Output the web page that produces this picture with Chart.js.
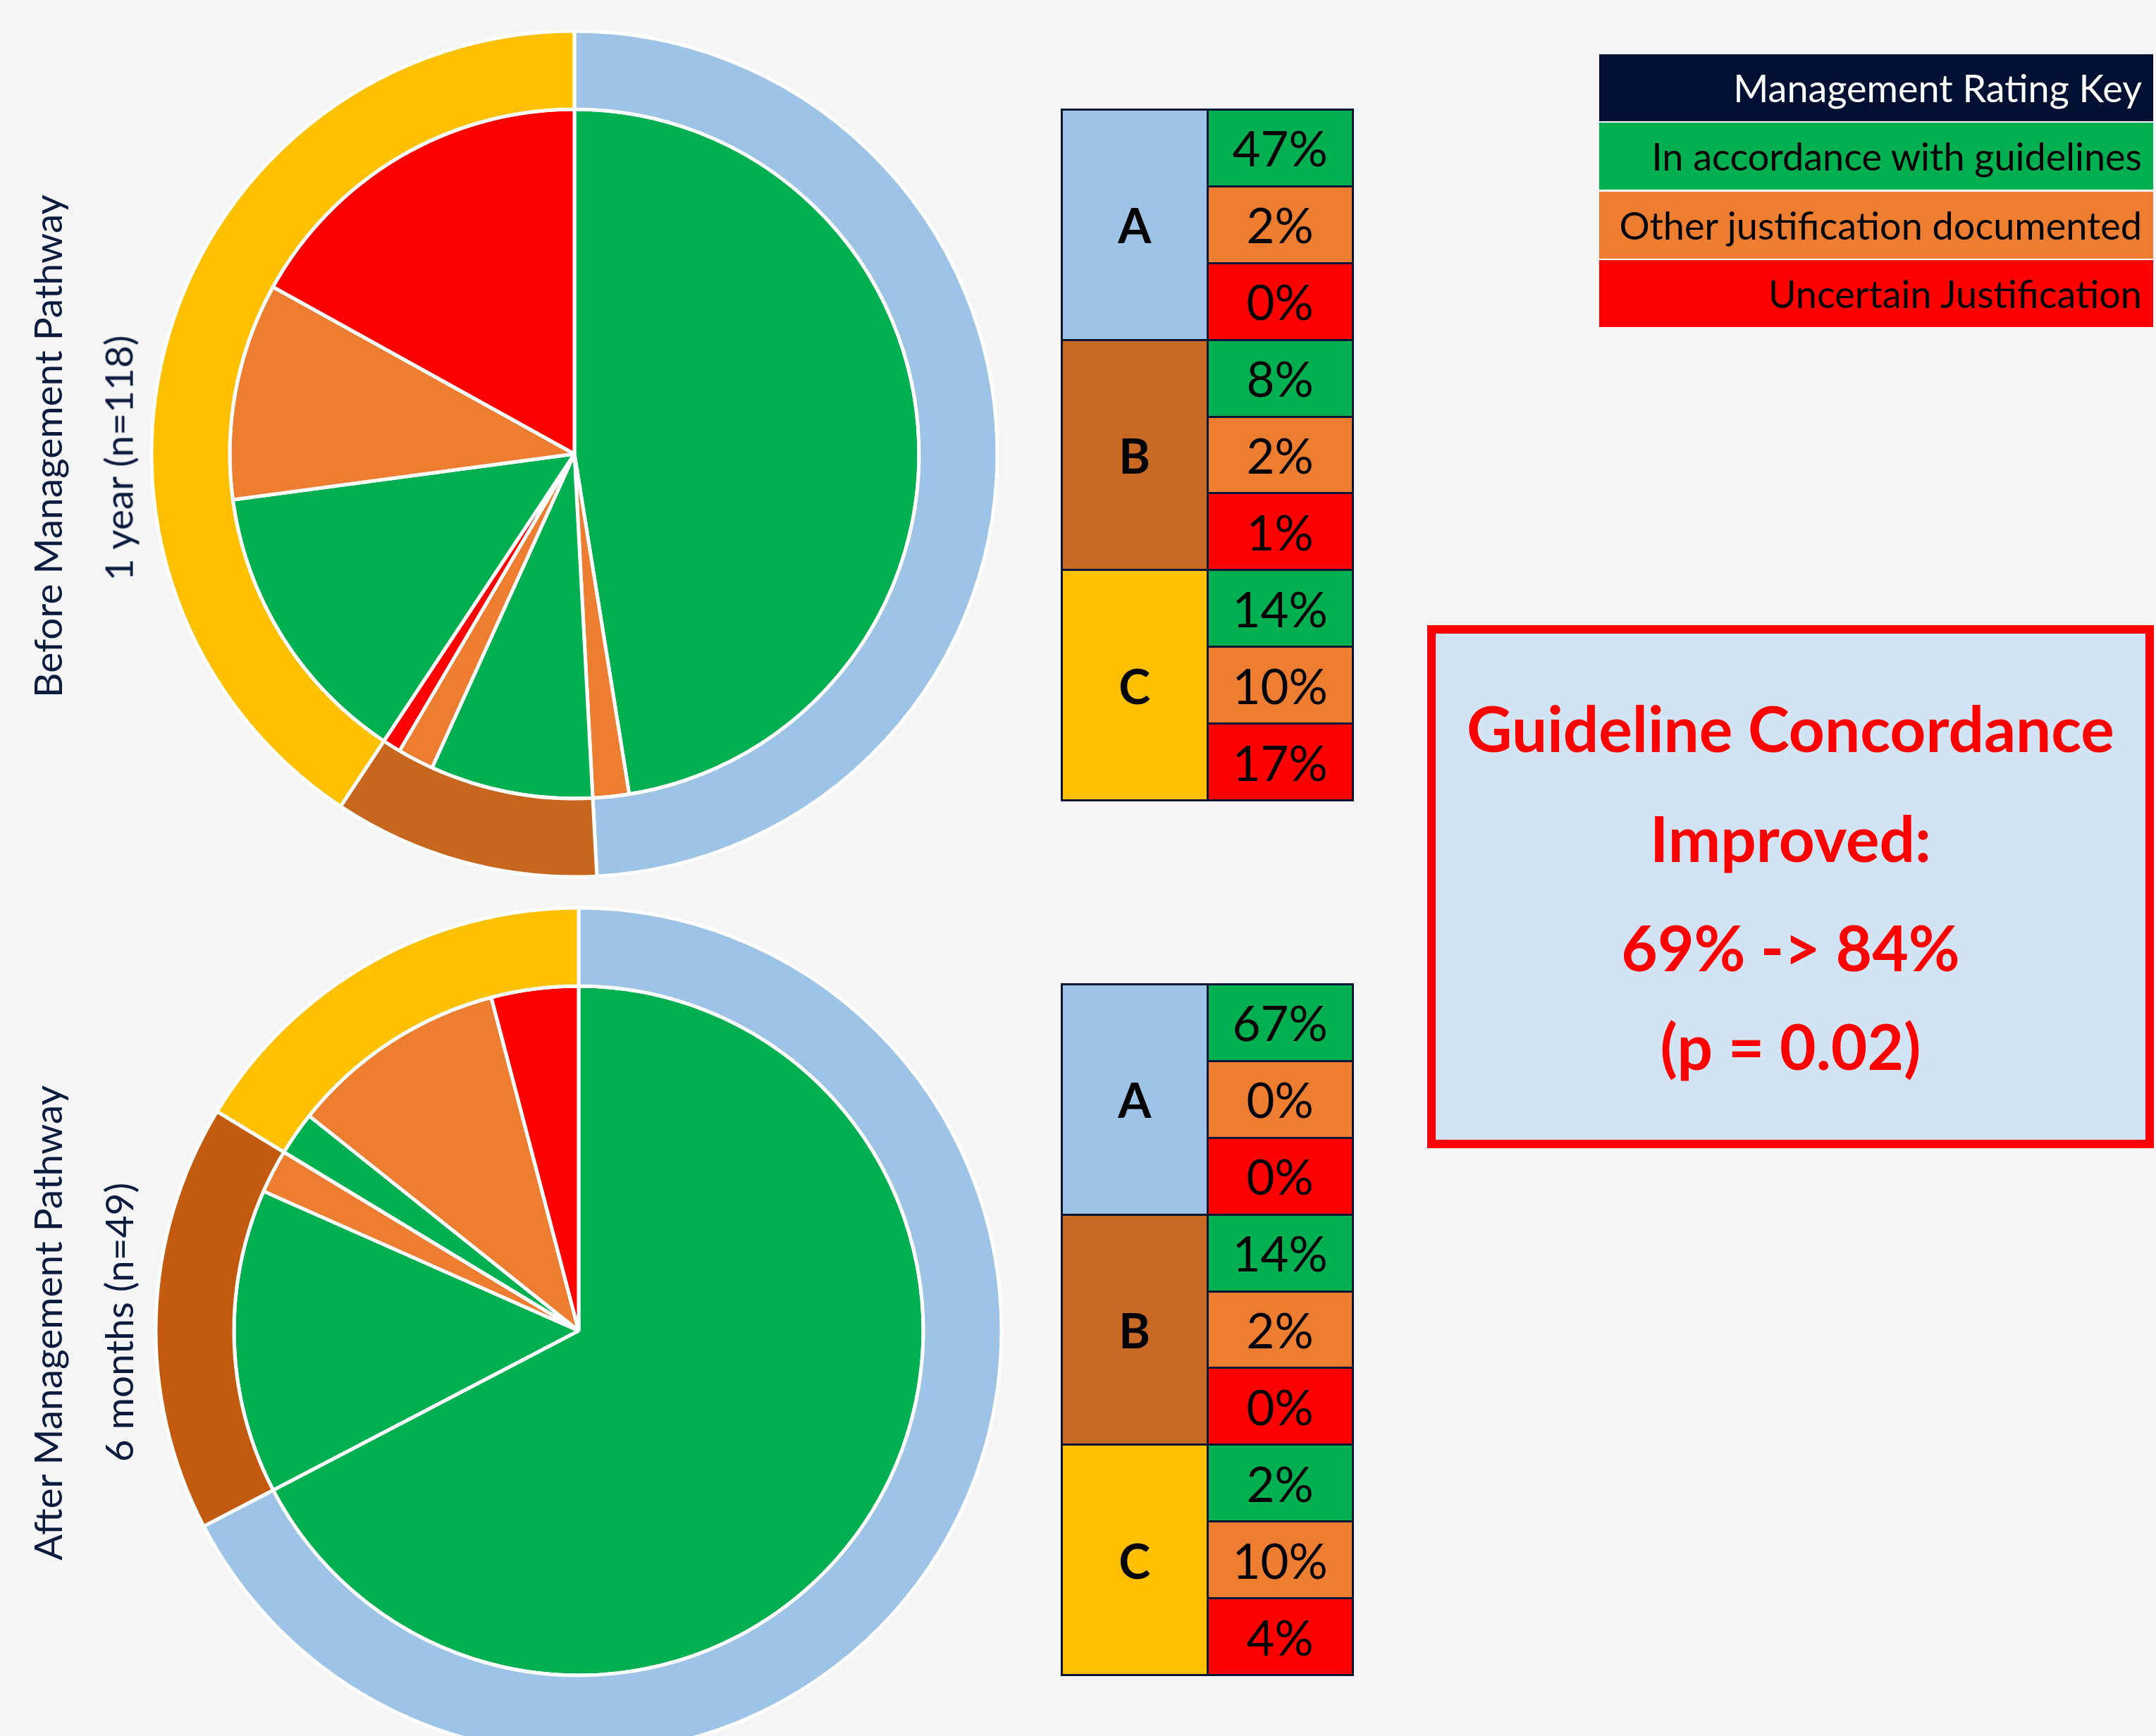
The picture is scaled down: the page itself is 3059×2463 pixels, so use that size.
<!DOCTYPE html>
<html>
<head>
<meta charset="utf-8">
<script src="https://cdn.jsdelivr.net/npm/chart.js@4.4.0/dist/chart.umd.min.js"></script>
<style>
    html, body { margin: 0; padding: 0; }
    body {
        width: 3059px; height: 2463px; overflow: hidden; position: relative;
        background: #F5F5F5; font-family: Lato, 'Open Sans', sans-serif;
    }
    .pie { position: absolute; width: 1240px; height: 1240px; }
    .side {
        position: absolute; white-space: nowrap; color: #0D1B3E;
        font-size: 55px; line-height: 55px;
        transform: translate(-50%, -50%) rotate(-90deg);
    }
    .tbl {
        position: absolute; left: 1505px; width: 416px; height: 983px;
        display: grid; grid-template-columns: 1fr 1fr; grid-template-rows: repeat(9, 1fr);
        gap: 3px; padding: 3px; box-sizing: border-box; background: #0A1433;
    }
    .tbl div { display: flex; align-items: center; justify-content: center; font-size: 69px; color: #000; }
    .tbl .grade { font-weight: 700; font-size: 68px; }
    .key {
        position: absolute; left: 2269px; width: 786px; height: 95px;
        display: flex; align-items: center; justify-content: flex-end;
        padding-right: 16px; box-sizing: border-box; font-size: 54px; color: #000; white-space: nowrap;
    }
    .box {
        position: absolute; left: 2025px; top: 887px; width: 1031px; height: 742px;
        border: 12px solid #FF0000; background: #D2E3F3; box-sizing: border-box;
    }
    .box div {
        position: absolute; left: 0; right: 0; text-align: center; white-space: nowrap;
        color: #FF0000; font-weight: 700; font-size: 89px; line-height: 89px;
    }
</style>
</head>
<body>

<div class="pie" style="left:195px; top:24px;"><canvas id="pieBefore" width="1240" height="1240"></canvas></div>
<div class="pie" style="left:201px; top:1268px;"><canvas id="pieAfter" width="1240" height="1240"></canvas></div>

<div class="side" style="left:67px; top:633px;">Before Management Pathway</div>
<div class="side" style="left:168px; top:650px;">1 year (n=118)</div>
<div class="side" style="left:67px; top:1877px;">After Management Pathway</div>
<div class="side" style="left:168px; top:1876px;">6 months (n=49)</div>

<div class="tbl" id="tblBefore" style="top:154px;"></div>
<div class="tbl" id="tblAfter" style="top:1395px;"></div>

<div class="key" style="top:77px; background:#001033; color:#FFFFFF;">Management Rating Key</div>
<div id="keyRows"></div>

<div class="box">
    <div style="top:89px;">Guideline Concordance</div>
    <div style="top:245px;">Improved:</div>
    <div style="top:400px;">69% -&gt; 84%</div>
    <div style="top:540px;">(p = 0.02)</div>
</div>

<script>
// grades and ratings
const grades = ['A', 'B', 'C'];
const ratings = ['In accordance with guidelines', 'Other justification documented', 'Uncertain Justification'];

// patient counts per grade: [guidelines, other, uncertain]
const beforeN = 118;
const beforeA = [56, 2, 0];
const beforeB = [9, 2, 1];
const beforeC = [16, 12, 20];

const afterN = 49;
const afterA = [33, 0, 0];
const afterB = [7, 1, 0];
const afterC = [1, 5, 2];

const ratingColors = ['#00B050', '#ED7D31', '#FF0000'];
const gradeColors = ['#9DC3E6', '#C86A25', '#FFC000'];

function drawPie(id, values, ringColors) {
    const inner = [].concat(...values);
    const outer = values.map(v => v.reduce((a, b) => a + b, 0));
    const labels = [];
    grades.forEach(g => ratings.forEach(r => labels.push(g + ' - ' + r)));

    new Chart(document.getElementById(id), {
        type: 'pie',
        data: {
            labels: labels,
            datasets: [{
                label: 'Grade',
                data: outer,
                backgroundColor: ringColors,
                borderColor: '#FFFFFF',
                borderWidth: 5,
                weight: 111
            }, {
                label: 'Rating',
                data: inner,
                backgroundColor: inner.map((v, i) => ratingColors[i % 3]),
                borderColor: '#FFFFFF',
                borderWidth: 5,
                weight: 489
            }]
        },
        options: {
            responsive: false,
            animation: false,
            radius: 600,
            events: [],
            layout: { padding: 0 },
            plugins: {
                legend: { display: false },
                tooltip: { enabled: false }
            }
        }
    });
}

function buildTable(id, values, n) {
    const tbl = document.getElementById(id);
    values.forEach((row, g) => {
        const cell = document.createElement('div');
        cell.className = 'grade';
        cell.textContent = grades[g];
        cell.style.background = gradeColors[g];
        cell.style.gridColumn = '1';
        cell.style.gridRow = (g * 3 + 1) + ' / span 3';
        tbl.appendChild(cell);
        row.forEach((v, r) => {
            const c = document.createElement('div');
            c.textContent = Math.round(v / n * 100) + '%';
            c.style.background = ratingColors[r];
            c.style.gridColumn = '2';
            c.style.gridRow = String(g * 3 + r + 1);
            tbl.appendChild(c);
        });
    });
}

drawPie('pieBefore', [beforeA, beforeB, beforeC], ['#9DC3E6', '#C6661F', '#FFC000']);
drawPie('pieAfter', [afterA, afterB, afterC], ['#9DC3E6', '#C25A10', '#FFC000']);
buildTable('tblBefore', [beforeA, beforeB, beforeC], beforeN);
buildTable('tblAfter', [afterA, afterB, afterC], afterN);

// key rows
const keyTops = [174, 272, 369];
const keyHolder = document.getElementById('keyRows');
ratings.forEach((r, i) => {
    const d = document.createElement('div');
    d.className = 'key';
    d.style.top = keyTops[i] + 'px';
    d.style.background = ratingColors[i];
    d.textContent = r;
    keyHolder.appendChild(d);
});
</script>
</body>
</html>
